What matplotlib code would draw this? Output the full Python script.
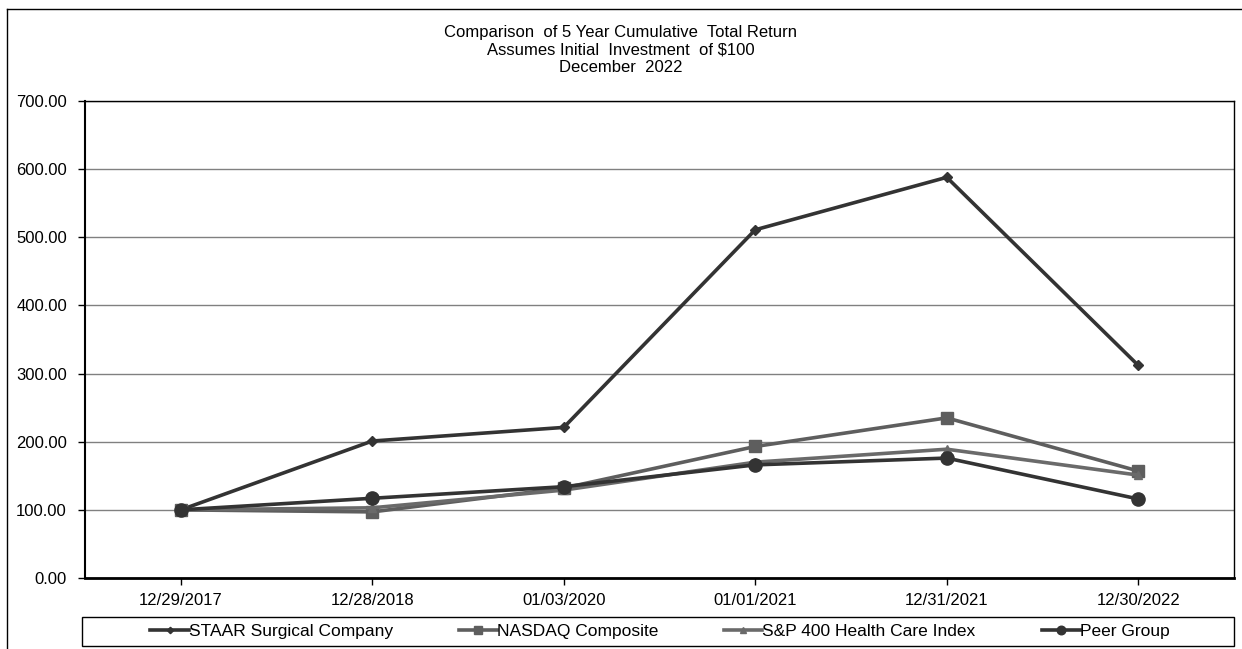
import matplotlib
matplotlib.use("Agg")
import matplotlib.pyplot as plt
from matplotlib.lines import Line2D

plt.rcParams['font.family'] = ['Liberation Sans', 'DejaVu Sans']

dates = ["12/29/2017", "12/28/2018", "01/03/2020", "01/01/2021", "12/31/2021", "12/30/2022"]
staar = [100, 201, 221, 511, 588, 312]
nasdaq = [100, 97, 132, 193, 235, 157]
sp400hc = [100, 103, 129, 170, 189, 151]
peer = [100, 117, 134, 166, 176, 116]
series_names = ["STAAR Surgical Company", "NASDAQ Composite", "S&P 400 Health Care Index", "Peer Group"]
yticks = [0, 100, 200, 300, 400, 500, 600, 700]

fig = plt.figure(figsize=(12.42, 6.49), dpi=100)
ax = fig.add_axes([85/1242, 1 - 578/649, (1234 - 85)/1242, (578 - 101)/649])

x = list(range(len(dates)))
styles = [
    (staar, '#333333', 'D', 5),
    (nasdaq, '#5e5e5e', 's', 9),
    (sp400hc, '#6a6a6a', '^', 6),
    (peer, '#333333', 'o', 9.5),
]
handles = []
for (vals, col, mk, ms), name in zip(styles, series_names):
    ax.plot(x, vals, color=col, lw=2.6, marker=mk, markersize=ms,
            markerfacecolor=col, markeredgecolor=col, label=name, zorder=3)
    handles.append(Line2D([0], [0], color=col, lw=2.6, marker=mk,
                          markersize=ms * 0.65, markerfacecolor=col, markeredgecolor=col))

ax.set_xlim(-0.5, len(dates) - 0.5)
ax.set_ylim(0, 700)
ax.set_yticks(yticks)
ax.set_yticklabels([f"{v:.2f}" for v in yticks], fontsize=12)
ax.set_xticks(x)
ax.set_xticklabels(dates, fontsize=12)
ax.tick_params(axis='x', length=5, width=1, direction='out', pad=6)
ax.tick_params(axis='y', length=5, width=1, direction='out', pad=8)
ax.yaxis.grid(True, color='#808080', lw=1)
ax.set_axisbelow(True)
for s in ax.spines.values():
    s.set_linewidth(1.0)
    s.set_color('black')
ax.spines['left'].set_linewidth(1.5)
ax.spines['bottom'].set_linewidth(2)

fig.text(0.5, 1 - 33/649, "Comparison  of 5 Year Cumulative  Total Return", ha='center', va='center', fontsize=12)
fig.text(0.5, 1 - 50/649, "Assumes Initial  Investment  of $100", ha='center', va='center', fontsize=12)
fig.text(0.5, 1 - 67/649, "December  2022", ha='center', va='center', fontsize=12)

# outer frame lines
fig.add_artist(Line2D([7/1242, 7/1242], [0, 1 - 9/649], transform=fig.transFigure, color='black', lw=1))
fig.add_artist(Line2D([7/1242, 1], [1 - 9/649, 1 - 9/649], transform=fig.transFigure, color='black', lw=1))

# legend box
fig.add_artist(plt.Rectangle((82/1242, 1 - 646/649), (1234 - 82)/1242, 29/649,
                             transform=fig.transFigure, fill=False, edgecolor='black', lw=1))
leg = fig.legend(handles, series_names, loc='center', ncol=4,
                 bbox_to_anchor=(660/1242, 1 - 631.5/649),
                 frameon=False, fontsize=12.5,
                 handlelength=2.2, handletextpad=0.0, borderpad=0.2, columnspacing=3.8)

fig.savefig("out.png", dpi=100)
